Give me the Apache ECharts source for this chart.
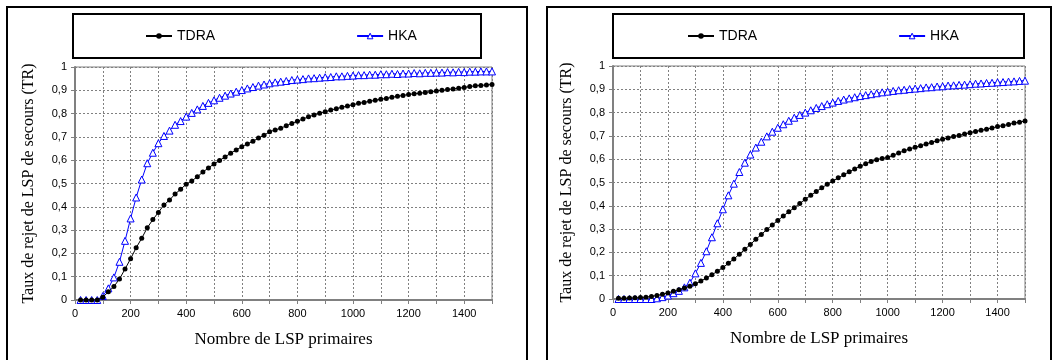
<!DOCTYPE html>
<html style="height: 100%">
   <head>
       <meta charset="utf-8">
   </head>
   <body style="height: 100%; margin: 0; background: #fff">
       <div id="container" style="width: 1058px; height: 360px"></div>
       <script type="text/javascript" src="https://cdn.jsdelivr.net/npm/echarts@6/dist/echarts.min.js"></script>
       <script type="text/javascript">
var dom = document.getElementById("container");
var myChart = echarts.init(dom);

// nombre de LSP primaires (abscisses communes aux deux graphes)
var nbLsp = [20, 40, 60, 80, 100, 120, 140, 160, 180, 200, 220, 240, 260, 280, 300,
    320, 340, 360, 380, 400, 420, 440, 460, 480, 500, 520, 540, 560, 580, 600,
    620, 640, 660, 680, 700, 720, 740, 760, 780, 800, 820, 840, 860, 880, 900,
    920, 940, 960, 980, 1000, 1020, 1040, 1060, 1080, 1100, 1120, 1140, 1160, 1180, 1200,
    1220, 1240, 1260, 1280, 1300, 1320, 1340, 1360, 1380, 1400, 1420, 1440, 1460, 1480, 1500];

// graphe de gauche
var tdraG = [0, 0, 0, 0, 0.012, 0.035, 0.058, 0.09, 0.133, 0.177, 0.224, 0.265, 0.31, 0.345, 0.376,
    0.408, 0.429, 0.455, 0.475, 0.497, 0.511, 0.529, 0.549, 0.567, 0.584, 0.599, 0.614, 0.63, 0.644, 0.658,
    0.67, 0.681, 0.695, 0.707, 0.722, 0.73, 0.737, 0.748, 0.758, 0.767, 0.777, 0.786, 0.794, 0.802, 0.808,
    0.815, 0.821, 0.827, 0.833, 0.838, 0.844, 0.848, 0.853, 0.857, 0.862, 0.865, 0.87, 0.874, 0.878, 0.882,
    0.885, 0.887, 0.891, 0.894, 0.897, 0.9, 0.903, 0.906, 0.909, 0.912, 0.916, 0.919, 0.921, 0.923, 0.925];
var hkaG = [0, 0, 0, 0, 0.017, 0.05, 0.097, 0.164, 0.254, 0.35, 0.44, 0.517, 0.587, 0.632, 0.673,
    0.704, 0.727, 0.752, 0.768, 0.787, 0.803, 0.818, 0.833, 0.846, 0.857, 0.868, 0.877, 0.886, 0.894, 0.901,
    0.908, 0.914, 0.92, 0.925, 0.93, 0.934, 0.937, 0.94, 0.944, 0.946, 0.948, 0.951, 0.952, 0.954, 0.956,
    0.957, 0.96, 0.96, 0.962, 0.963, 0.965, 0.965, 0.967, 0.967, 0.969, 0.969, 0.971, 0.97, 0.972, 0.972,
    0.974, 0.973, 0.975, 0.975, 0.976, 0.976, 0.978, 0.977, 0.979, 0.978, 0.98, 0.98, 0.981, 0.981, 0.981];

// graphe de droite
var tdraD = [0.003, 0.003, 0.004, 0.005, 0.006, 0.008, 0.011, 0.015, 0.02, 0.026, 0.033, 0.04, 0.047, 0.055, 0.065,
    0.077, 0.09, 0.104, 0.119, 0.135, 0.153, 0.172, 0.192, 0.213, 0.234, 0.256, 0.277, 0.298, 0.318, 0.337,
    0.356, 0.374, 0.392, 0.41, 0.428, 0.445, 0.461, 0.477, 0.492, 0.506, 0.52, 0.533, 0.546, 0.558, 0.57,
    0.58, 0.59, 0.598, 0.603, 0.607, 0.617, 0.627, 0.636, 0.644, 0.651, 0.658, 0.665, 0.672, 0.679, 0.686,
    0.691, 0.697, 0.702, 0.708, 0.714, 0.719, 0.724, 0.729, 0.734, 0.74, 0.744, 0.749, 0.755, 0.759, 0.764];
var hkaD = [0, 0, 0, 0, 0, 0, 0, 0.003, 0.008, 0.015, 0.025, 0.035, 0.05, 0.07, 0.11,
    0.155, 0.205, 0.265, 0.325, 0.385, 0.445, 0.495, 0.545, 0.585, 0.62, 0.65, 0.675, 0.698, 0.718, 0.735,
    0.75, 0.765, 0.778, 0.79, 0.8, 0.81, 0.82, 0.828, 0.836, 0.843, 0.85, 0.856, 0.861, 0.866, 0.871,
    0.875, 0.879, 0.883, 0.887, 0.89, 0.893, 0.896, 0.898, 0.901, 0.903, 0.905, 0.908, 0.909, 0.912, 0.913,
    0.916, 0.917, 0.919, 0.92, 0.922, 0.924, 0.925, 0.927, 0.928, 0.93, 0.931, 0.933, 0.934, 0.936, 0.937];

var yTicks = ['0', '0,1', '0,2', '0,3', '0,4', '0,5', '0,6', '0,7', '0,8', '0,9', '1'];

function paires(ys) {
    return nbLsp.map(function (x, i) { return [x, ys[i]]; });
}

var police = 'Liberation Sans, Arial, sans-serif';
var serif = 'Liberation Serif, Times New Roman, serif';

function axeX(idx) {
    return {
        type: 'value', gridIndex: idx, min: 0, max: 1500, interval: 100,
        name: 'Nombre de LSP primaires', nameLocation: 'middle', nameGap: 31,
        nameTextStyle: {fontFamily: serif, fontSize: 17, color: '#000'},
        axisLine: {lineStyle: {color: '#808080', width: 2}},
        axisTick: {show: true, length: 4, lineStyle: {color: '#808080'}},
        axisLabel: {
            fontFamily: police, fontSize: 11, color: '#000', margin: 8,
            formatter: function (v) { return v % 200 === 0 ? String(v) : ''; }
        },
        splitLine: {show: true, lineStyle: {color: '#808080', type: [2, 2], width: 1}}
    };
}
function axeY(idx) {
    return {
        type: 'value', gridIndex: idx, min: 0, max: 1, interval: 0.1,
        name: 'Taux de rejet de LSP de secours (TR)', nameLocation: 'middle', nameGap: 38,
        nameTextStyle: {fontFamily: serif, fontSize: 16, color: '#000'},
        axisLine: {show: true, lineStyle: {color: '#808080', width: 2}},
        axisTick: {show: true, length: 4, lineStyle: {color: '#808080'}},
        axisLabel: {
            fontFamily: police, fontSize: 11, color: '#000', margin: 8,
            formatter: function (v) { return yTicks[Math.round(v * 10)]; }
        },
        splitLine: {show: true, lineStyle: {color: '#808080', type: [2, 2], width: 1}}
    };
}
function serieTdra(idx, ys) {
    return {
        name: 'TDRA', type: 'line', xAxisIndex: idx, yAxisIndex: idx, z: 3,
        data: paires(ys), symbol: 'circle', symbolSize: 5,
        itemStyle: {color: '#000'}, lineStyle: {color: '#000', width: 1},
        animation: false
    };
}
function serieHka(idx, ys) {
    return {
        name: 'HKA', type: 'line', xAxisIndex: idx, yAxisIndex: idx, z: 2,
        data: paires(ys), symbol: 'triangle', symbolSize: 7,
        itemStyle: {color: '#fff', borderColor: '#0000ff', borderWidth: 1},
        lineStyle: {color: '#0000ff', width: 1},
        animation: false
    };
}
function legende(left) {
    return {
        left: left, top: 29, padding: 0, itemGap: 141, itemWidth: 26, itemHeight: 7,
        data: [
            {name: 'TDRA'},
            {name: 'HKA', itemStyle: {color: '#fff', borderColor: '#0000ff', borderWidth: 1}}
        ],
        selectedMode: false,
        textStyle: {fontFamily: police, fontSize: 14, color: '#000'}
    };
}
function cadre(x, y, w, h, lw) {
    return {type: 'rect', shape: {x: x, y: y, width: w, height: h},
        style: {fill: null, stroke: '#000', lineWidth: lw}, z: 10};
}

var option = {
    backgroundColor: '#fff',
    animation: false,
    graphic: [
        cadre(7, 7, 520, 365, 2),
        cadre(547, 7, 504, 365, 2),
        cadre(73, 14, 408, 44, 2),
        cadre(613, 14, 411, 44, 2)
    ],
    legend: [legende(145), legende(687)],
    grid: [
        {left: 75, top: 67, width: 417, height: 233, show: true, borderColor: '#808080', borderWidth: 1},
        {left: 613, top: 66, width: 412, height: 233, show: true, borderColor: '#808080', borderWidth: 1}
    ],
    xAxis: [axeX(0), axeX(1)],
    yAxis: [axeY(0), axeY(1)],
    series: [
        serieHka(0, hkaG), serieTdra(0, tdraG),
        serieHka(1, hkaD), serieTdra(1, tdraD)
    ]
};
myChart.setOption(option);
       </script>
   </body>
</html>
